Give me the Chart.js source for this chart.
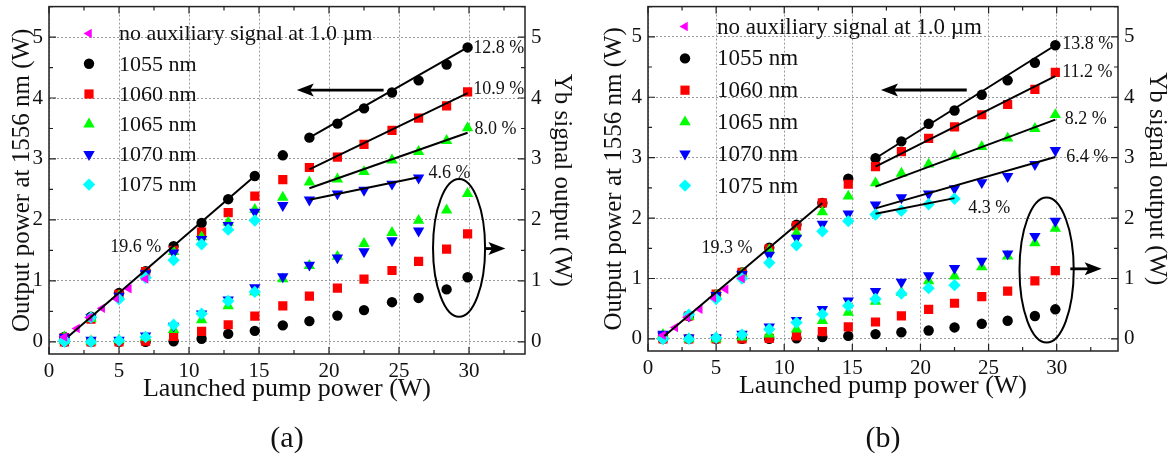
<!DOCTYPE html>
<html>
<head>
<meta charset="utf-8">
<title>Output power at 1556 nm and Yb signal vs launched pump power</title>
<script src="https://cdn.jsdelivr.net/npm/chart.js"></script>
<style>
  body { margin: 0; background: #fff; }
  .row { display: flex; width: 1174px; height: 459px; }
  canvas { display: block; }
</style>
</head>
<body>
<div class="row">
  <canvas id="panel_a" width="587" height="459"></canvas>
  <canvas id="panel_b" width="587" height="459"></canvas>
</div>
<script>
// launched pump power (W)
const pump = [1.1, 3.0, 5.0, 6.9, 8.9, 10.9, 12.8, 14.7, 16.7, 18.6, 20.6, 22.5, 24.5, 26.4, 28.4, 29.9];
const pumpNoAux = [1.1, 2.0, 2.9, 3.8, 4.8, 5.7, 6.9];

// (a) output power at 1556 nm (W)
const outA_noAux = [0.08, 0.22, 0.40, 0.55, 0.71, 0.87, 1.03];
const outA_1055 = [0.08, 0.41, 0.80, 1.16, 1.57, 1.95, 2.34, 2.72, 3.06, 3.35, 3.58, 3.83, 4.09, 4.29, 4.55, 4.83];
const outA_1060 = [0.07, 0.37, 0.78, 1.15, 1.50, 1.80, 2.12, 2.39, 2.66, 2.86, 3.03, 3.24, 3.47, 3.67, 3.87, 4.10];
const outA_1065 = [0.08, 0.38, 0.75, 1.10, 1.48, 1.72, 1.96, 2.17, 2.37, 2.62, 2.67, 2.79, 2.98, 3.12, 3.30, 3.51];
const outA_1070 = [0.08, 0.40, 0.75, 1.12, 1.46, 1.68, 1.91, 2.13, 2.24, 2.33, 2.43, 2.49, 2.59, 2.69];
const outA_1075 = [0.03, 0.40, 0.70, 1.05, 1.34, 1.60, 1.84, 1.99];
// (a) Yb signal output (W)
const ybA_1055 = [0.0, 0.0, 0.0, 0.0, 0.01, 0.05, 0.13, 0.18, 0.27, 0.34, 0.43, 0.52, 0.65, 0.72, 0.86, 1.06];
const ybA_1060 = [0.0, 0.0, 0.0, 0.01, 0.09, 0.17, 0.28, 0.42, 0.59, 0.75, 0.88, 1.03, 1.17, 1.32, 1.52, 1.77];
const ybA_1065 = [0.02, 0.01, 0.03, 0.07, 0.20, 0.36, 0.59, 0.82, 1.03, 1.25, 1.40, 1.61, 1.79, 1.99, 2.16, 2.43];
const ybA_1070 = [0.03, 0.03, 0.03, 0.10, 0.26, 0.46, 0.69, 0.89, 1.07, 1.26, 1.38, 1.48, 1.66, 1.82];
const ybA_1075 = [0.0, 0.0, 0.02, 0.08, 0.28, 0.46, 0.67, 0.82];
// (a) linear fits [pump, output]
const fitA_low = [[1.4, 0.09], [14.7, 2.72]];
const fitA_1055 = [[18.6, 3.35], [29.9, 4.83]];
const fitA_1060 = [[18.6, 2.83], [29.9, 4.08]];
const fitA_1065 = [[18.6, 2.52], [29.9, 3.43]];
const fitA_1070 = [[18.6, 2.33], [26.4, 2.70]];
const slopeA = ['19.6 %', '12.8 %', '10.9 %', '8.0 %', '4.6 %'];

// (b) output power at 1556 nm (W)
const outB_noAux = [0.06, 0.19, 0.36, 0.49, 0.68, 0.82, 1.00];
const outB_1055 = [0.05, 0.38, 0.73, 1.10, 1.51, 1.89, 2.25, 2.65, 2.99, 3.27, 3.56, 3.78, 4.04, 4.28, 4.57, 4.86];
const outB_1060 = [0.05, 0.38, 0.74, 1.10, 1.49, 1.87, 2.25, 2.56, 2.85, 3.10, 3.32, 3.51, 3.71, 3.88, 4.13, 4.41];
const outB_1065 = [0.07, 0.37, 0.72, 1.08, 1.47, 1.75, 2.10, 2.36, 2.58, 2.74, 2.89, 3.03, 3.18, 3.32, 3.48, 3.71];
const outB_1070 = [0.08, 0.38, 0.72, 1.07, 1.39, 1.67, 1.90, 2.07, 2.22, 2.34, 2.40, 2.49, 2.59, 2.69, 2.89, 3.12];
const outB_1075 = [0.0, 0.40, 0.66, 1.00, 1.26, 1.55, 1.78, 1.95, 2.06, 2.12, 2.23, 2.32];
// (b) Yb signal output (W)
const ybB_1055 = [0.0, 0.0, 0.0, 0.0, 0.0, 0.01, 0.03, 0.05, 0.08, 0.11, 0.14, 0.19, 0.25, 0.30, 0.38, 0.49];
const ybB_1060 = [0.0, 0.0, 0.0, 0.0, 0.01, 0.05, 0.12, 0.20, 0.28, 0.38, 0.49, 0.59, 0.70, 0.79, 0.96, 1.13];
const ybB_1065 = [0.04, 0.0, 0.0, 0.03, 0.08, 0.16, 0.30, 0.44, 0.62, 0.77, 0.96, 1.04, 1.19, 1.37, 1.59, 1.83];
const ybB_1070 = [0.05, 0.02, 0.02, 0.08, 0.20, 0.31, 0.49, 0.63, 0.79, 0.94, 1.05, 1.17, 1.29, 1.41, 1.70, 1.95];
const ybB_1075 = [0.0, 0.0, 0.02, 0.07, 0.16, 0.27, 0.41, 0.55, 0.66, 0.75, 0.84, 0.89];
// (b) linear fits
const fitB_low = [[1.2, 0.05], [12.8, 2.25]];
const fitB_1055 = [[16.7, 2.99], [29.9, 4.86]];
const fitB_1060 = [[16.7, 2.85], [29.9, 4.35]];
const fitB_1065 = [[16.7, 2.52], [29.9, 3.63]];
const fitB_1070 = [[16.7, 2.16], [29.9, 3.01]];
const fitB_1075 = [[16.7, 2.07], [22.5, 2.33]];
const slopeB = ['19.3 %', '13.8 %', '11.2 %', '8.2 %', '6.4 %', '4.3 %'];

const SERIF = "'Liberation Serif', 'Times New Roman', serif";

const marks = {
  noAux: { label: 'no auxiliary signal at 1.0 \u00b5m', color: '#ff00ff', shape: 'triangle', rot: 270, r: 5.5, order: 1 },
  n1055: { label: '1055 nm', color: '#000000', shape: 'circle', rot: 0, r: 5.2, order: 6 },
  n1060: { label: '1060 nm', color: '#ff0000', shape: 'rect', rot: 0, r: 6.5, order: 5 },
  n1065: { label: '1065 nm', color: '#00ff00', shape: 'triangle', rot: 0, r: 6.6, order: 4 },
  n1070: { label: '1070 nm', color: '#0000ff', shape: 'triangle', rot: 180, r: 6.6, order: 3 },
  n1075: { label: '1075 nm', color: '#00ffff', shape: 'rectRot', rot: 0, r: 6.2, order: 2 }
};

const pts = (xs, ys) => ys.map((v, i) => ({ x: xs[i], y: v }));

const scatter = (m, data, axis, inLegend) => ({
  label: m.label,
  data: data,
  yAxisID: axis,
  inLegend: inLegend,
  mark: m,
  showLine: false,
  order: m.order,
  pointStyle: m.shape,
  pointRotation: m.rot,
  pointRadius: m.r,
  pointBackgroundColor: m.color,
  pointBorderWidth: 0
});

const fitLine = (ends) => ({
  data: ends.map(e => ({ x: e[0], y: e[1] })),
  yAxisID: 'y',
  showLine: true,
  borderColor: '#000',
  borderWidth: 2,
  pointRadius: 0,
  order: 0
});

// no label overflow padding, so the plot area is exactly what afterFit says
const noPad = s => { s.paddingTop = 0; s.paddingBottom = 0; s.paddingLeft = 0; s.paddingRight = 0; };

function drawMarker(ctx, m, x, y) {
  ctx.save();
  ctx.translate(x, y);
  ctx.rotate(m.rot * Math.PI / 180);
  ctx.fillStyle = m.color;
  ctx.beginPath();
  if (m.shape === 'circle') {
    ctx.arc(0, 0, m.r, 0, 2 * Math.PI);
  } else if (m.shape === 'rect') {
    const s = m.r * Math.SQRT1_2;
    ctx.rect(-s, -s, 2 * s, 2 * s);
  } else if (m.shape === 'rectRot') {
    ctx.moveTo(-m.r, 0); ctx.lineTo(0, -m.r); ctx.lineTo(m.r, 0); ctx.lineTo(0, m.r);
    ctx.closePath();
  } else {
    for (let k = 0; k < 3; k++) {
      const t = k * 2 * Math.PI / 3;
      ctx.lineTo(Math.sin(t) * m.r, -Math.cos(t) * m.r);
    }
    ctx.closePath();
  }
  ctx.fill();
  ctx.restore();
}

function drawArrow(ctx, x0, y0, x1, y1) {
  const ang = Math.atan2(y1 - y0, x1 - x0);
  const head = 17, half = 6.5;
  const bx = x1 - Math.cos(ang) * head, by = y1 - Math.sin(ang) * head;
  ctx.beginPath();
  ctx.moveTo(x0, y0);
  ctx.lineTo(x1 - Math.cos(ang) * head * 0.7, y1 - Math.sin(ang) * head * 0.7);
  ctx.stroke();
  ctx.beginPath();
  ctx.moveTo(x1, y1);
  ctx.lineTo(bx + Math.sin(ang) * half, by - Math.cos(ang) * half);
  ctx.lineTo(x1 - Math.cos(ang) * head * 0.78, y1 - Math.sin(ang) * head * 0.78);
  ctx.lineTo(bx - Math.sin(ang) * half, by + Math.cos(ang) * half);
  ctx.closePath();
  ctx.fill();
}

// frame, inward ticks, legend box, notes, arrows, ellipse, caption
const decor = {
  id: 'decor',
  afterDatasetsDraw(chart, args, o) {
    const { ctx, chartArea: a, scales: { x, y } } = chart;
    ctx.save();

    ctx.strokeStyle = '#222';
    ctx.lineWidth = 1.2;
    ctx.beginPath();
    for (let v = 0; v <= x.max + 1e-6; v += 2.5) {
      const px = x.getPixelForValue(v);
      const len = Math.abs(v % 5) < 1e-6 ? 7 : 4;
      ctx.moveTo(px, a.bottom); ctx.lineTo(px, a.bottom - len);
      ctx.moveTo(px, a.top); ctx.lineTo(px, a.top + len);
    }
    for (let v = 0; v <= y.max + 1e-6; v += 0.5) {
      const py = y.getPixelForValue(v);
      const len = Math.abs(v % 1) < 1e-6 ? 7 : 4;
      ctx.moveTo(a.left, py); ctx.lineTo(a.left + len, py);
      ctx.moveTo(a.right, py); ctx.lineTo(a.right - len, py);
    }
    ctx.stroke();
    ctx.lineWidth = 1.5;
    ctx.strokeRect(a.left, a.top, a.right - a.left, a.bottom - a.top);

    // legend
    const lg = o.legend;
    ctx.font = lg.size + 'px ' + SERIF;
    ctx.textBaseline = 'middle';
    ctx.textAlign = 'left';
    let row = 0;
    chart.data.datasets.forEach(ds => {
      if (!ds.inLegend) return;
      const ly = a.top + lg.dy + row * lg.gap;
      drawMarker(ctx, ds.mark, a.left + lg.dx, ly);
      ctx.fillStyle = '#111';
      ctx.fillText(ds.label, a.left + lg.textDx, ly + 1);
      row++;
    });

    // slope notes
    ctx.font = '18px ' + SERIF;
    ctx.fillStyle = '#111';
    o.notes.forEach(n => {
      ctx.textAlign = n.align || 'left';
      ctx.fillText(n.text, x.getPixelForValue(n.x), y.getPixelForValue(n.y));
    });

    // arrows
    ctx.strokeStyle = '#000';
    ctx.fillStyle = '#000';
    ctx.lineWidth = 2.8;
    o.arrows.forEach(ar => {
      drawArrow(ctx, x.getPixelForValue(ar.from[0]), y.getPixelForValue(ar.from[1]),
        x.getPixelForValue(ar.to[0]), y.getPixelForValue(ar.to[1]));
    });

    // ellipse around the Yb signal points
    const e = o.ellipse;
    const cx = x.getPixelForValue(e.x), cy = y.getPixelForValue(e.y);
    ctx.lineWidth = 2;
    ctx.beginPath();
    ctx.ellipse(cx, cy, Math.abs(x.getPixelForValue(e.x + e.rx) - cx),
      Math.abs(y.getPixelForValue(e.y + e.ry) - cy), 0, 0, 2 * Math.PI);
    ctx.stroke();

    // caption
    ctx.font = '30px ' + SERIF;
    ctx.textAlign = 'center';
    ctx.fillStyle = '#111';
    ctx.fillText(o.caption, (a.left + a.right) / 2, 439);
    ctx.restore();
  }
};

function makePanel(id, p) {
  const tickFont = { family: SERIF, size: 21 };
  const titleFont = { family: SERIF, size: 25 };
  const datasets = p.fits.map(fitLine);
  datasets.push(
    scatter(marks.noAux, pts(pumpNoAux, p.out.noAux), 'y', true),
    scatter(marks.n1055, pts(pump, p.out.n1055), 'y', true),
    scatter(marks.n1060, pts(pump, p.out.n1060), 'y', true),
    scatter(marks.n1065, pts(pump, p.out.n1065), 'y', true),
    scatter(marks.n1070, pts(pump, p.out.n1070), 'y', true),
    scatter(marks.n1075, pts(pump, p.out.n1075), 'y', true),
    scatter(marks.n1055, pts(pump, p.yb.n1055), 'y2', false),
    scatter(marks.n1060, pts(pump, p.yb.n1060), 'y2', false),
    scatter(marks.n1065, pts(pump, p.yb.n1065), 'y2', false),
    scatter(marks.n1070, pts(pump, p.yb.n1070), 'y2', false),
    scatter(marks.n1075, pts(pump, p.yb.n1075), 'y2', false)
  );

  new Chart(document.getElementById(id), {
    type: 'scatter',
    data: { datasets: datasets },
    options: {
      responsive: false,
      animation: false,
      layout: { padding: { top: 5, bottom: p.padBottom, left: 0, right: 0 } },
      plugins: { legend: { display: false }, tooltip: { enabled: false }, decor: p.decor },
      scales: {
        x: {
          type: 'linear', min: 0, max: p.xMax,
          afterFit: s => { s.height = 51; noPad(s); },
          ticks: { stepSize: 5, includeBounds: false, padding: 5, color: '#111', font: tickFont },
          grid: { color: '#9a9a9a', drawTicks: false },
          border: { display: false, dash: [2, 2] },
          title: { display: true, text: 'Launched pump power (W)', color: '#111', font: { family: SERIF, size: 26 }, padding: { top: 0, bottom: 0 } }
        },
        y: {
          type: 'linear', position: 'left', min: -0.2, max: 5.5,
          afterFit: s => { s.width = p.leftW; noPad(s); },
          ticks: { stepSize: 1, includeBounds: false, padding: 6, color: '#111', font: tickFont },
          grid: { color: '#9a9a9a', drawTicks: false },
          border: { display: false, dash: [2, 2] },
          title: { display: true, text: 'Output power at 1556 nm (W)', color: '#111', font: titleFont, padding: { top: p.leftPad, bottom: 0 } }
        },
        y2: {
          type: 'linear', position: 'right', min: -0.2, max: 5.5,
          afterFit: s => { s.width = p.rightW; noPad(s); },
          ticks: { stepSize: 1, includeBounds: false, padding: 6, color: '#111', font: tickFont },
          grid: { drawOnChartArea: false, drawTicks: false },
          border: { display: false },
          title: { display: true, text: 'Yb signal output (W)', color: '#111', font: titleFont, padding: { top: p.rightPad, bottom: 0 } }
        }
      }
    },
    plugins: [decor]
  });
}

makePanel('panel_a', {
  xMax: 34, leftW: 49, rightW: 62, leftPad: 7, rightPad: 10, padBottom: 54,
  out: { noAux: outA_noAux, n1055: outA_1055, n1060: outA_1060, n1065: outA_1065, n1070: outA_1070, n1075: outA_1075 },
  yb: { n1055: ybA_1055, n1060: ybA_1060, n1065: ybA_1065, n1070: ybA_1070, n1075: ybA_1075 },
  fits: [fitA_low, fitA_1055, fitA_1060, fitA_1065, fitA_1070],
  decor: {
    caption: '(a)',
    legend: { dx: 40, dy: 27, gap: 30.2, textDx: 70, size: 22 },
    notes: [
      { text: slopeA[0], x: 6.2, y: 1.55, align: 'center' },
      { text: slopeA[1], x: 30.3, y: 4.81 },
      { text: slopeA[2], x: 30.3, y: 4.14 },
      { text: slopeA[3], x: 30.4, y: 3.49 },
      { text: slopeA[4], x: 27.1, y: 2.77 }
    ],
    arrows: [{ from: [23.9, 4.13], to: [17.7, 4.13] }, { from: [31.2, 1.53], to: [32.6, 1.53] }],
    ellipse: { x: 29.29, y: 1.54, rx: 1.86, ry: 1.13 }
  }
});

makePanel('panel_b', {
  xMax: 34.5, leftW: 61, rightW: 56, leftPad: 12, rightPad: 2, padBottom: 57,
  out: { noAux: outB_noAux, n1055: outB_1055, n1060: outB_1060, n1065: outB_1065, n1070: outB_1070, n1075: outB_1075 },
  yb: { n1055: ybB_1055, n1060: ybB_1060, n1065: ybB_1065, n1070: ybB_1070, n1075: ybB_1075 },
  fits: [fitB_low, fitB_1055, fitB_1060, fitB_1065, fitB_1070, fitB_1075],
  decor: {
    caption: '(b)',
    legend: { dx: 37, dy: 20, gap: 31.8, textDx: 69, size: 23 },
    notes: [
      { text: slopeB[0], x: 5.8, y: 1.50, align: 'center' },
      { text: slopeB[1], x: 30.4, y: 4.87 },
      { text: slopeB[2], x: 30.4, y: 4.41 },
      { text: slopeB[3], x: 30.6, y: 3.64 },
      { text: slopeB[4], x: 30.7, y: 3.01 },
      { text: slopeB[5], x: 23.5, y: 2.16 }
    ],
    arrows: [{ from: [23.4, 4.12], to: [17.1, 4.12] }, { from: [31.0, 1.16], to: [33.3, 1.16] }],
    ellipse: { x: 29.26, y: 1.14, rx: 1.99, ry: 1.2 }
  }
});
</script>
</body>
</html>
